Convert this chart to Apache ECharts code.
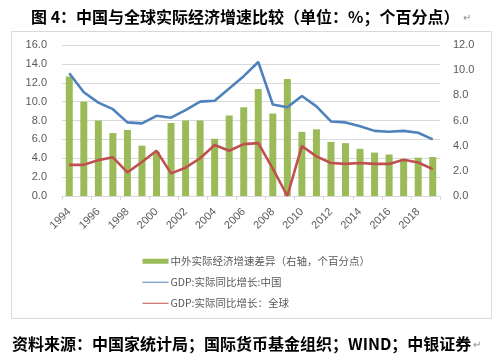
<!DOCTYPE html>
<html><head><meta charset="utf-8">
<script src="https://cdn.jsdelivr.net/npm/echarts@6/dist/echarts.min.js"></script>
<style>html,body{margin:0;padding:0;background:#fff}#c{width:496px;height:355px}</style>
</head><body><div id="c"></div>
<script>
const years = ['1994','1995','1996','1997','1998','1999','2000','2001','2002','2003','2004','2005','2006','2007','2008','2009','2010','2011','2012','2013','2014','2015','2016','2017','2018','2019'];
const chinaGDP = [13.0,11.0,9.9,9.2,7.8,7.7,8.5,8.3,9.1,10.0,10.1,11.4,12.7,14.2,9.7,9.4,10.6,9.5,7.9,7.8,7.4,6.9,6.8,6.9,6.7,6.0];
const worldGDP = [3.3,3.3,3.8,4.1,2.5,3.6,4.8,2.4,3.0,4.0,5.4,4.8,5.5,5.6,2.9,0.0,5.3,4.2,3.5,3.4,3.5,3.4,3.4,3.85,3.55,2.85];
const gapBars = [9.5,7.5,6.0,5.0,5.25,4.0,3.5,5.8,6.0,6.0,4.55,6.4,7.05,8.5,6.55,9.3,5.1,5.3,4.3,4.2,3.75,3.45,3.3,2.95,3.05,3.1];
const leftTicks = {min:0, max:16, interval:2};
const rightTicks = {min:0, max:12, interval:2};
const titleText = '图 4：中国与全球实际经济增速比较（单位：%；个百分点）';
const sourceText = '资料来源：中国家统计局；国际货币基金组织；WIND；中银证券';
const names = ['中外实际经济增速差异（右轴，个百分点）','GDP:实际同比增长:中国','GDP:实际同比增长：全球'];

const chart = echarts.init(document.getElementById('c'), null, {renderer:'canvas'});
const axisFont = {fontFamily:'Liberation Sans', fontSize:11, color:'#595959'};
const hiddenSymbol = {color:'rgba(0,0,0,0)', borderWidth:0, opacity:0};
chart.setOption({
  backgroundColor:'#fff',
  animation:false,
  title:[{
    text: titleText + '{p|↵}',
    left: 26, top: 4,
    textStyle:{fontFamily:'Noto Sans CJK SC', fontWeight:'bold', fontSize:16, color:'#000',
      rich:{p:{fontSize:10, color:'#888', fontWeight:'normal', padding:[0,0,0,4]}}}
  },{
    text: sourceText + '{p|↵}',
    left: 7, top: 331,
    textStyle:{fontFamily:'Noto Sans CJK SC', fontWeight:'bold', fontSize:16, color:'#000',
      rich:{p:{fontSize:10, color:'#888', fontWeight:'normal', padding:[0,0,0,2]}}}
  }],
  graphic:[{type:'rect', shape:{x:11.5, y:31.5, width:480, height:287}, style:{fill:'none', stroke:'#d9d9d9', lineWidth:1}, silent:true}],
  legend:{
    orient:'vertical', left:137, top:251,
    itemWidth:26, itemHeight:5, itemGap:10.5,
    textStyle:{fontFamily:'Noto Sans CJK SC', fontSize:10.5, color:'#595959', padding:[0,0,0,-3]},
    lineStyle:{width:1},
    data:[{name:names[0], icon:'rect'},
          {name:names[1], itemStyle:hiddenSymbol},
          {name:names[2], itemStyle:hiddenSymbol}]
  },
  grid:{left:62, right:56, top:45, bottom:159, containLabel:false},
  xAxis:{
    type:'category', data:years, boundaryGap:true,
    axisLine:{lineStyle:{color:'#d9d9d9'}},
    axisTick:{show:true, interval:1, length:4, lineStyle:{color:'#d9d9d9'}},
    axisLabel:Object.assign({interval:1, rotate:45, margin:14}, axisFont)
  },
  yAxis:[{
    type:'value', min:leftTicks.min, max:leftTicks.max, interval:leftTicks.interval,
    axisLine:{show:false}, axisTick:{show:false},
    splitLine:{lineStyle:{color:'#d9d9d9'}},
    axisLabel:Object.assign({margin:15, formatter:v=>v.toFixed(1)}, axisFont)
  },{
    type:'value', min:rightTicks.min, max:rightTicks.max, interval:rightTicks.interval,
    axisLine:{show:false}, axisTick:{show:false}, splitLine:{show:false},
    axisLabel:Object.assign({margin:13, formatter:v=>v.toFixed(1)}, axisFont)
  }],
  series:[{
    name:names[0], type:'bar', yAxisIndex:1, data:gapBars, barWidth:7,
    itemStyle:{color:'#9bbb59'}, z:1
  },{
    name:names[1], type:'line', yAxisIndex:0, data:chinaGDP, symbol:'none',
    lineStyle:{color:'#4f81bd', width:2.6}, itemStyle:{color:'#4f81bd'}, z:3
  },{
    name:names[2], type:'line', yAxisIndex:0, data:worldGDP, symbol:'none',
    lineStyle:{color:'#c0504d', width:2.6}, itemStyle:{color:'#c0504d'}, z:3
  }]
});
</script></body></html>
